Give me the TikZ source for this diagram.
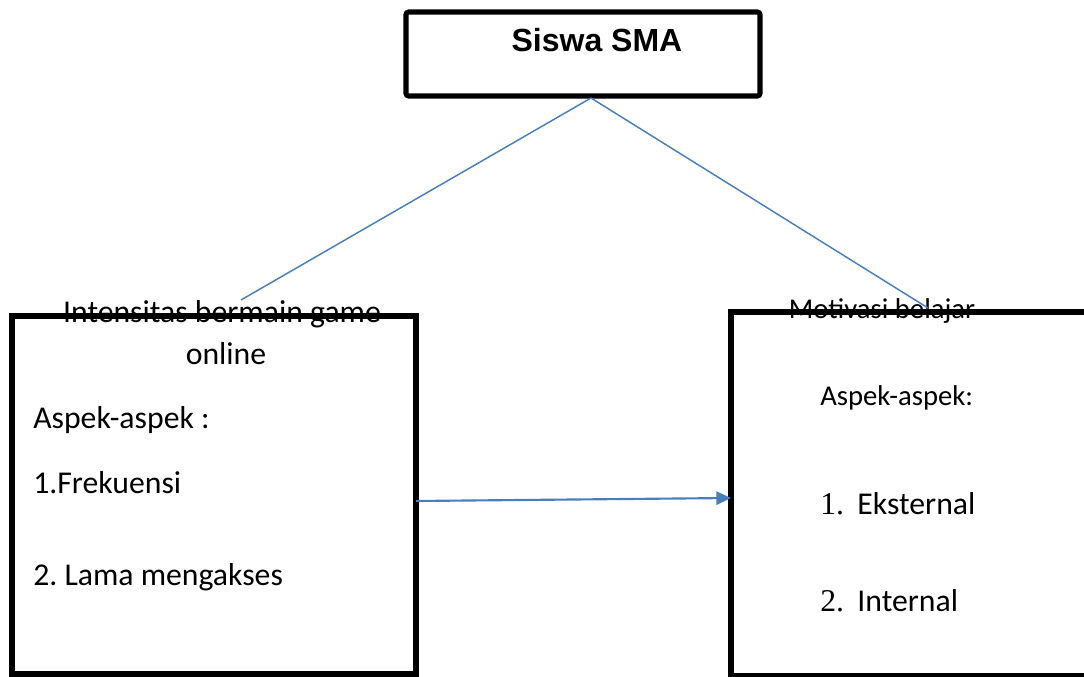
\documentclass[tikz,border=0pt]{standalone}
\usepackage{fontspec}
\usepackage{xcolor}
\usepackage{tikz}
\usetikzlibrary{arrows.meta}
\setmainfont{Carlito}
\newfontfamily\arialfont{Liberation Sans}
\newfontfamily\timesfont{Liberation Serif}
\definecolor{linkblue}{RGB}{74,126,187}
\frenchspacing

\begin{document}
\begin{tikzpicture}[x=0.75pt, y=-0.75pt,
    bigbox/.style={draw=black, line width=3.8pt, anchor=north west, outer sep=0pt, inner sep=0pt},
    txt/.style={anchor=base west, inner sep=0pt, font=\fontsize{23.8}{30}\selectfont},
    smalltxt/.style={anchor=base west, inner sep=0pt, font=\fontsize{21.5}{26}\selectfont},
    link/.style={draw=linkblue, line width=1.1pt}]
              \useasboundingbox (0,0) rectangle (1084,677);
              \clip (0,0) rectangle (1084,677);
              % boxes
              \node[bigbox, rounded corners=2pt, minimum width=265.5pt, minimum height=63pt] (sma) at (406,12) {};
              \node[bigbox, minimum width=303pt, minimum height=268.5pt] (game) at (12,316) {};
              \node[bigbox, minimum width=300pt, minimum height=272.3pt] (motiv) at (731,312) {};
              % title
              \node[anchor=base, inner sep=0pt, font=\arialfont\bfseries\fontsize{24}{28}\selectfont] (smatxt) at (597,52) {Siswa SMA};
              % left box
              \node[anchor=base, inner sep=0pt, font=\fontsize{23.8}{30.8}\selectfont, align=center] (gamehead) at (222,364) {Intensitas bermain game\\\hspace*{6pt}online};
              \node[txt] (aspekl) at (33,428) {Aspek-aspek :};
              \node[txt] (frek) at (33,493) {1.Frekuensi};
              \node[txt] (lama) at (33,585) {2. Lama mengakses};
              % right box
              \node[anchor=base, inner sep=0pt, font=\fontsize{21.5}{26}\selectfont] (motivhead) at (882,318) {Motivasi belajar};
              \node[smalltxt] (aspekr) at (820,405) {Aspek-aspek:};
              \node[txt] (eks) at (820,514) {{\timesfont 1.}\hspace{10pt}Eksternal};
              \node[txt] (int) at (820,611) {{\timesfont 2.}\hspace{10pt}Internal};
              % connectors
              \coordinate (top) at (591,98);
              \coordinate (lend) at (241,300);
              \coordinate (rend) at (928,308);
              \draw[link] (top) -- (lend);
              \draw[link] (top) -- (rend);
              \draw[link, line width=1.6pt, -{Triangle[length=11pt, width=10pt]}] (game.east |- 0,501) -- (motiv.west |- 0,498);
          \end{tikzpicture}
\end{document}
